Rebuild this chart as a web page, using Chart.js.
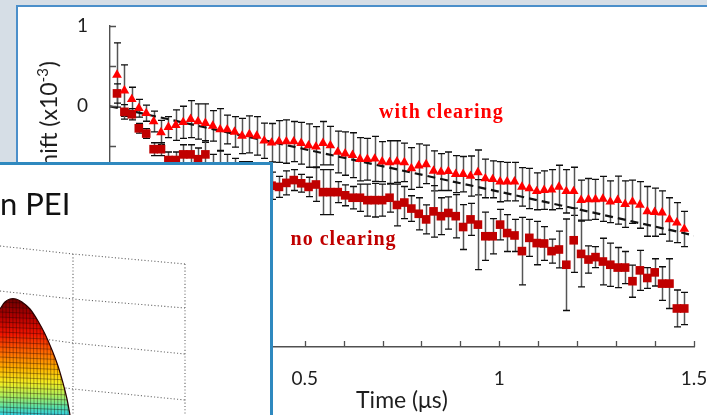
<!DOCTYPE html>
<html>
<head>
<meta charset="utf-8">
<title>Tune shift along the bunch train</title>
<script src="https://cdn.jsdelivr.net/npm/chart.js@4.4.1/dist/chart.umd.min.js"></script>
<style>
  html, body { margin: 0; padding: 0; }
  body { width: 707px; height: 415px; overflow: hidden; background: #d6dee6; position: relative; }
  #panel { position: absolute; left: 16px; top: 5px; width: 720px; height: 440px; background: #fff;
           border-left: 2px solid #4b8fca; border-top: 2px solid #4b8fca; }
  #main { position: absolute; left: 0; top: 0; }
  #inset { position: absolute; left: -20px; top: 162px; width: 287px; height: 300px; background: #fff;
           border: 3px solid #2f89bf; }
  #insetPlot { position: absolute; left: 0; top: 165px; }
</style>
</head>
<body>
<div id="panel"></div>
<canvas id="main" width="707" height="415"></canvas>
<div id="inset"></div>
<canvas id="insetPlot" width="270" height="250"></canvas>
<script>
// Time along the bunch train (μs)
const time = [
  0.018, 0.037, 0.056, 0.074, 0.093, 0.112, 0.131, 0.150, 0.169, 0.188,
  0.207, 0.226, 0.245, 0.264, 0.283, 0.301, 0.320, 0.339, 0.358, 0.377,
  0.396, 0.415, 0.434, 0.453, 0.472, 0.491, 0.510, 0.529, 0.547, 0.566,
  0.585, 0.604, 0.623, 0.642, 0.661, 0.680, 0.699, 0.718, 0.737, 0.756,
  0.774, 0.793, 0.812, 0.831, 0.850, 0.869, 0.888, 0.907, 0.926, 0.945,
  0.964, 0.983, 1.002, 1.020, 1.039, 1.058, 1.077, 1.096, 1.115, 1.134,
  1.153, 1.172, 1.191, 1.210, 1.229, 1.247, 1.266, 1.285, 1.304, 1.323,
  1.342, 1.361, 1.380, 1.399, 1.418, 1.437, 1.456, 1.475
];

// Tune shift (x10^-3) with the clearing electrodes powered
const withClearing = [
  0.39, 0.195, 0.087, -0.025, -0.087, -0.19, -0.325, -0.26, -0.235, -0.20,
  -0.16, -0.19, -0.21, -0.245, -0.29, -0.29, -0.32, -0.37, -0.35, -0.37,
  -0.43, -0.455, -0.44, -0.44, -0.44, -0.46, -0.49, -0.505, -0.46, -0.49,
  -0.57, -0.59, -0.61, -0.66, -0.66, -0.655, -0.69, -0.70, -0.69, -0.70,
  -0.775, -0.74, -0.725, -0.805, -0.82, -0.81, -0.846, -0.846, -0.87, -0.825,
  -0.90, -0.91, -0.94, -0.94, -0.94, -1.005, -1.025, -1.06, -1.045, -1.04,
  -1.005, -1.06, -1.06, -1.17, -1.16, -1.16, -1.155, -1.19, -1.17, -1.22,
  -1.19, -1.23, -1.31, -1.32, -1.325, -1.41, -1.45, -1.53
];
const withClearingErr = [
  0.40, 0.32, 0.15, 0.11, 0.10, 0.13, 0.15, 0.13, 0.19, 0.20,
  0.23, 0.22, 0.24, 0.19, 0.26, 0.18, 0.19, 0.22, 0.23, 0.24,
  0.22, 0.24, 0.26, 0.27, 0.25, 0.26, 0.27, 0.25, 0.27, 0.24,
  0.26, 0.27, 0.28, 0.27, 0.26, 0.28, 0.25, 0.27, 0.26, 0.24,
  0.26, 0.27, 0.24, 0.25, 0.23, 0.24, 0.23, 0.22, 0.25, 0.28,
  0.24, 0.23, 0.25, 0.24, 0.24, 0.24, 0.25, 0.23, 0.24, 0.25,
  0.27, 0.27, 0.30, 0.25, 0.26, 0.25, 0.28, 0.26, 0.30, 0.29,
  0.27, 0.29, 0.31, 0.30, 0.27, 0.27, 0.25, 0.22
];

// Tune shift (x10^-3) without clearing
const noClearing = [
  0.16, -0.07, -0.10, -0.275, -0.34, -0.535, -0.535, -0.67, -0.67, -0.60,
  -0.60, -0.66, -0.60, -0.78, -0.76, -0.82, -0.85, -0.88, -0.90, -0.93,
  -0.96, -0.99, -1.005, -0.955, -0.92, -0.96, -1.005, -0.975, -1.07, -1.07,
  -1.07, -1.11, -1.14, -1.14, -1.17, -1.17, -1.17, -1.14, -1.23, -1.20,
  -1.275, -1.34, -1.41, -1.31, -1.37, -1.33, -1.37, -1.505, -1.41, -1.475,
  -1.62, -1.62, -1.475, -1.58, -1.61, -1.805, -1.64, -1.705, -1.71, -1.805,
  -1.785, -1.975, -1.67, -1.84, -1.91, -1.88, -1.935, -1.975, -2.01, -2.01,
  -2.18, -2.045, -2.14, -2.07, -2.21, -2.21, -2.52, -2.52
];
const noClearingErr = [
  0.12, 0.09, 0.07, 0.06, 0.06, 0.08, 0.08, 0.10, 0.10, 0.12,
  0.12, 0.14, 0.17, 0.18, 0.20, 0.22, 0.20, 0.19, 0.21, 0.20,
  0.18, 0.17, 0.13, 0.15, 0.13, 0.11, 0.12, 0.21, 0.28, 0.28,
  0.13, 0.13, 0.14, 0.17, 0.20, 0.21, 0.20, 0.18, 0.26, 0.20,
  0.16, 0.20, 0.18, 0.32, 0.23, 0.20, 0.27, 0.28, 0.20, 0.56,
  0.30, 0.22, 0.19, 0.23, 0.20, 0.42, 0.23, 0.27, 0.21, 0.15,
  0.23, 0.57, 0.40, 0.41, 0.17, 0.13, 0.29, 0.27, 0.25, 0.20,
  0.20, 0.25, 0.13, 0.17, 0.21, 0.31, 0.23, 0.20
];

// Straight-line fit drawn dashed under the data
const fitTime  = [0, 0.25, 0.5, 0.75, 1.0, 1.25, 1.5];
const fitShift = [0, -0.27, -0.535, -0.80, -1.065, -1.335, -1.61];

// Axis ticks
const xTickValues  = [0, 0.1, 0.2, 0.3, 0.4, 0.5, 0.6, 0.7, 0.8, 0.9, 1, 1.1, 1.2, 1.3, 1.4, 1.5];
const xLabelValues = [0, 0.5, 1, 1.5];
const xLabelText   = ['0', '0.5', '1', '1.5'];
const yTickValues  = [1, 0.5, 0, -0.5, -1, -1.5, -2, -2.5, -3];
const yLabelValues = [1, 0, -1, -2, -3];
const yLabelText   = ['1', '0', '-1', '-2', '-3'];

const SANS = 'Lato, "Open Sans", "DejaVu Sans", sans-serif';
const SERIF = '"Liberation Serif", "DejaVu Serif", serif';

const pairs = (xs, ys) => xs.map((x, i) => ({ x, y: ys[i] }));

// Series captions, placed in data coordinates
const seriesNotes = [
  { text: 'with clearing', t: 0.851, v: -0.085, color: '#ff0000' },
  { text: 'no clearing',   t: 0.600, v: -1.66,  color: '#c00000' }
];

// Vertical error bars with end caps
const errorBars = {
  id: 'errorBars',
  beforeDatasetsDraw(chart) {
    const { ctx, scales: { x, y } } = chart;
    ctx.save();
    chart.data.datasets.forEach(ds => {
      if (!ds.errors) return;
      ds.data.forEach((p, j) => {
        const e = ds.errors[j];
        const px = Math.round(x.getPixelForValue(p.x)) + 0.5;
        const top = y.getPixelForValue(p.y + e);
        const bot = y.getPixelForValue(p.y - e);
        ctx.strokeStyle = '#555555';
        ctx.lineWidth = 1.5;
        ctx.beginPath();
        ctx.moveTo(px, top); ctx.lineTo(px, bot);
        ctx.stroke();
        ctx.strokeStyle = '#0d0d0d';
        ctx.lineWidth = 1.3;
        ctx.beginPath();
        ctx.moveTo(px - 3.5, top); ctx.lineTo(px + 3.5, top);
        ctx.moveTo(px - 3.5, bot); ctx.lineTo(px + 3.5, bot);
        ctx.stroke();
      });
    });
    ctx.restore();
  }
};

// Inward tick marks, rotated y title and series captions
const axisDecor = {
  id: 'axisDecor',
  afterDraw(chart) {
    const { ctx, chartArea: a, scales: { x, y } } = chart;
    ctx.save();
    ctx.strokeStyle = '#505050';
    ctx.lineWidth = 1.3;
    ctx.beginPath();
    x.ticks.forEach(t => {
      const px = Math.round(x.getPixelForValue(t.value)) + 0.5;
      ctx.moveTo(px, a.bottom); ctx.lineTo(px, a.bottom - 6);
    });
    y.ticks.forEach(t => {
      const py = Math.round(y.getPixelForValue(t.value)) + 0.5;
      ctx.moveTo(a.left, py); ctx.lineTo(a.left + 6, py);
    });
    ctx.stroke();

    seriesNotes.forEach(n => {
      ctx.font = 'bold 20px ' + SERIF;
      ctx.letterSpacing = '1px';
      ctx.fillStyle = n.color;
      ctx.textAlign = 'center';
      ctx.textBaseline = 'middle';
      ctx.fillText(n.text, x.getPixelForValue(n.t), y.getPixelForValue(n.v));
    });
    ctx.letterSpacing = '0px';

    // y axis title, read bottom to top, ending near the top of the axis
    const main = 'Tune shift (x10', sup = '-3', end = ')';
    ctx.translate(50, 61);
    ctx.rotate(-Math.PI / 2);
    ctx.fillStyle = '#1e1e1e';
    ctx.textAlign = 'left';
    ctx.textBaseline = 'middle';
    ctx.font = '23px ' + SANS;
    const wMain = ctx.measureText(main).width, wEnd = ctx.measureText(end).width;
    ctx.font = '15px ' + SANS;
    const wSup = ctx.measureText(sup).width;
    let cx = -(wMain + wSup + wEnd + 1);
    ctx.font = '23px ' + SANS;
    ctx.fillText(main, cx, 0); cx += wMain;
    ctx.font = '15px ' + SANS;
    ctx.fillText(sup, cx, -7); cx += wSup + 1;
    ctx.font = '23px ' + SANS;
    ctx.fillText(end, cx, 0);
    ctx.restore();
  }
};

new Chart(document.getElementById('main'), {
  type: 'scatter',
  data: {
    datasets: [
      {
        label: 'with clearing',
        data: pairs(time, withClearing),
        errors: withClearingErr,
        pointStyle: 'triangle',
        pointRadius: 5.6,
        backgroundColor: '#ff0000',
        borderColor: '#ff0000',
        borderWidth: 0
      },
      {
        label: 'no clearing',
        data: pairs(time, noClearing),
        errors: noClearingErr,
        pointStyle: 'rect',
        pointRadius: 6.1,
        backgroundColor: '#c00000',
        borderColor: '#c00000',
        borderWidth: 0
      },
      {
        type: 'line',
        label: 'fit',
        data: pairs(fitTime, fitShift),
        borderColor: '#111',
        borderWidth: 2.2,
        borderDash: [8, 5],
        pointRadius: 0,
        fill: false
      }
    ]
  },
  options: {
    responsive: false,
    animation: false,
    events: [],
    layout: { padding: { left: 0, top: 26, right: 13, bottom: 0 } },
    plugins: { legend: { display: false }, tooltip: { enabled: false } },
    scales: {
      x: {
        type: 'linear',
        min: 0, max: 1.5,
        afterBuildTicks: s => { s.ticks = xTickValues.map(v => ({ value: v })); },
        afterFit: s => { s.height = 68; s.paddingLeft = 0; s.paddingRight = 0; },
        grid: { display: false, drawTicks: false },
        border: { display: true, color: '#505050', width: 1.4 },
        ticks: {
          padding: 20,
          autoSkip: false,
          maxRotation: 0,
          color: '#1e1e1e',
          font: { family: SANS, size: 19 },
          callback: v => { const k = xLabelValues.indexOf(v); return k < 0 ? '' : xLabelText[k]; }
        },
        title: {
          display: true,
          text: 'Time (μs)',
          color: '#1e1e1e',
          font: { family: SANS, size: 23 },
          padding: { top: 1, bottom: 1 }
        }
      },
      y: {
        type: 'linear',
        min: -3, max: 1,
        afterBuildTicks: s => { s.ticks = yTickValues.map(v => ({ value: v })); },
        afterFit: s => { s.width = 110; s.paddingTop = 0; s.paddingBottom = 0; },
        grid: { display: false, drawTicks: false },
        border: { display: true, color: '#505050', width: 1.4 },
        ticks: {
          padding: 22,
          autoSkip: false,
          color: '#1e1e1e',
          font: { family: SANS, size: 19 },
          callback: v => { const k = yLabelValues.indexOf(v); return k < 0 ? '' : yLabelText[k]; }
        }
      }
    }
  },
  plugins: [errorBars, axisDecor]
});

// ---- Inset: field map surface in front of its dotted box ----
const surfX = [0, 5, 10, 16, 22, 30, 38, 45, 52, 58, 63, 67, 70];
const surfZ = [106, 113, 116, 116, 113, 106, 94, 81, 65, 49, 32, 16, 0];
const wallX = [0, 73, 185];
const wallLevels = [[169, 161, 151], [124, 116, 107], [82, 72, 61], [36, 26, 15]];
const cornerX = [73, 185];
const cornerTop = [161, 151];

const jetStops = [
  [0.00, '#6e0000'], [0.15, '#b00000'], [0.30, '#f01400'], [0.45, '#ff6400'],
  [0.60, '#ffb400'], [0.72, '#f4ee20'], [0.84, '#a8ef60'], [0.94, '#52e0b0'], [1.00, '#34d0e0']
];

const dotted = { type: 'line', borderColor: '#666666', borderWidth: 1.1, borderDash: [1.1, 2.2], pointRadius: 0, fill: false };
const insetSets = [
  {
    type: 'line',
    label: 'surface',
    data: pairs(surfX, surfZ),
    fill: 'start',
    tension: 0.3,
    borderColor: '#2a0000',
    borderWidth: 1.2,
    pointRadius: 0,
    backgroundColor(c) {
      const chart = c.chart;
      if (!chart.chartArea) return '#c00000';
      const yS = chart.scales.y;
      const g = chart.ctx.createLinearGradient(0, yS.getPixelForValue(Math.max(...surfZ)), 0, yS.getPixelForValue(0));
      jetStops.forEach(([o, col]) => g.addColorStop(o, col));
      return g;
    }
  }
];
wallLevels.forEach(lv => insetSets.push(Object.assign({ data: pairs(wallX, lv) }, dotted)));
cornerX.forEach((cx, i) => insetSets.push(Object.assign({ data: [{ x: cx, y: cornerTop[i] }, { x: cx, y: 0 }] }, dotted)));

// Mesh lines over the coloured surface, plus the panel heading
const surfaceMesh = {
  id: 'surfaceMesh',
  afterDatasetsDraw(chart) {
    const { ctx, chartArea: a } = chart;
    const pts = chart.getDatasetMeta(0).data;
    ctx.save();
    ctx.beginPath();
    ctx.moveTo(pts[0].x, a.bottom);
    pts.forEach(p => ctx.lineTo(p.x, p.y));
    ctx.lineTo(pts[pts.length - 1].x, a.bottom);
    ctx.closePath();
    ctx.clip();
    ctx.strokeStyle = 'rgba(25,0,0,0.45)';
    ctx.lineWidth = 0.8;
    ctx.beginPath();
    const right = pts[pts.length - 1].x;
    for (let px = a.left + 1.5; px < right; px += 3.4) { ctx.moveTo(px, a.top); ctx.lineTo(px + 2, a.bottom); }
    for (let py = Math.min(...pts.map(p => p.y)) + 3; py < a.bottom; py += 5) { ctx.moveTo(a.left, py); ctx.lineTo(right, py + 3); }
    ctx.stroke();
    ctx.restore();

    ctx.save();
    ctx.fillStyle = '#111';
    ctx.font = '31px ' + SANS;
    ctx.textAlign = 'left';
    ctx.textBaseline = 'alphabetic';
    ctx.fillText('n PEI', 0, 50);
    ctx.restore();
  }
};

new Chart(document.getElementById('insetPlot'), {
  type: 'scatter',
  data: { datasets: insetSets },
  options: {
    responsive: false,
    animation: false,
    events: [],
    layout: { padding: 0 },
    plugins: { legend: { display: false }, tooltip: { enabled: false } },
    scales: {
      x: { type: 'linear', min: 0, max: 270, display: false },
      y: { type: 'linear', min: 0, max: 250, display: false }
    }
  },
  plugins: [surfaceMesh]
});
</script>
</body>
</html>
